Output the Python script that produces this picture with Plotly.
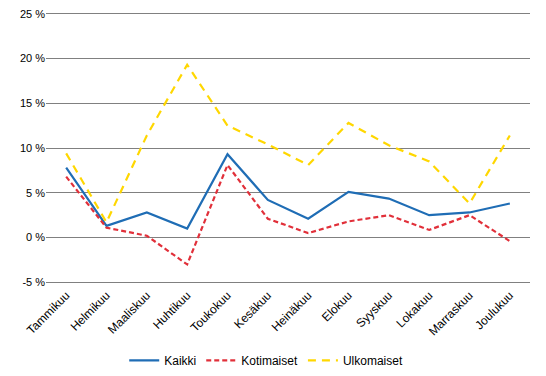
import plotly.graph_objects as go

months = ["Tammikuu", "Helmikuu", "Maaliskuu", "Huhtikuu", "Toukokuu", "Kesäkuu",
          "Heinäkuu", "Elokuu", "Syyskuu", "Lokakuu", "Marraskuu", "Joulukuu"]
kaikki = [7.8, 1.3, 2.8, 1.0, 9.3, 4.2, 2.1, 5.1, 4.35, 2.5, 2.8, 3.8]
kotimaiset = [6.8, 1.1, 0.2, -3.0, 8.1, 2.1, 0.5, 1.8, 2.5, 0.85, 2.5, -0.4]
ulkomaiset = [9.4, 1.7, 11.4, 19.3, 12.5, 10.4, 8.1, 12.8, 10.3, 8.5, 3.8, 11.4]
tick_vals = [-5, 0, 5, 10, 15, 20, 25]
tick_text = ["-5 %", "0 %", "5 %", "10 %", "15 %", "20 %", "25 %"]

fig = go.Figure()
fig.add_trace(go.Scatter(x=months, y=kaikki, name="Kaikki", mode="lines",
                         line=dict(color="#1f6db5", width=2.2)))
fig.add_trace(go.Scatter(x=months, y=kotimaiset, name="Kotimaiset", mode="lines",
                         line=dict(color="#e1303a", width=2.2, dash="5px,3px")))
fig.add_trace(go.Scatter(x=months, y=ulkomaiset, name="Ulkomaiset", mode="lines",
                         line=dict(color="#ffd700", width=2.2, dash="8px,6px")))

fig.update_layout(
    width=546, height=376,
    margin=dict(l=46, r=16, t=11, b=91, autoexpand=False),
    paper_bgcolor="white", plot_bgcolor="white",
    font=dict(family="Liberation Sans, Arial, sans-serif", size=11, color="#000000"),
    showlegend=True,
    legend=dict(orientation="h", x=0.455, xanchor="center", y=-0.275, yanchor="middle",
                font=dict(size=12), itemwidth=30),
    xaxis=dict(type="category", range=[-0.5, 11.5], tickangle=-45, showgrid=False,
               zeroline=False, showline=False, ticks="", tickfont=dict(size=12),
               automargin=False),
    yaxis=dict(range=[-5.3, 25.3], tickvals=tick_vals, ticktext=tick_text,
               showgrid=True, gridcolor="#808080", gridwidth=1, zeroline=False,
               showline=False, ticks="", tickfont=dict(size=11), automargin=False),
)

fig.write_html("out.html", config={"displayModeBar": False},
               post_script="document.body.style.margin='0';document.body.style.overflow='hidden';")
